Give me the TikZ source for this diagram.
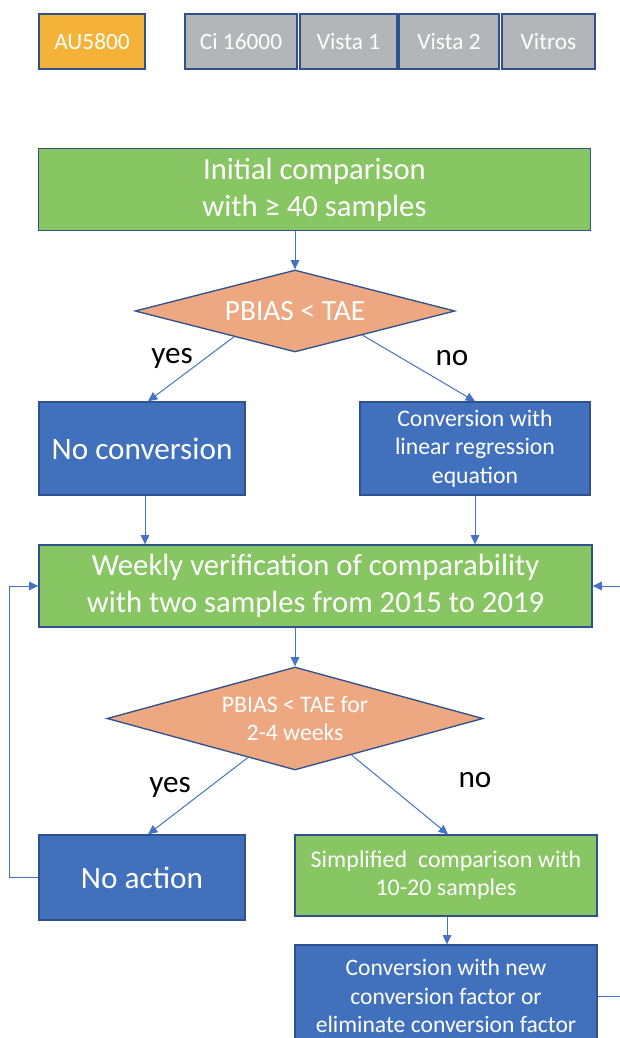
\documentclass[tikz,border=0pt]{standalone}
\usepackage{fontspec}
\setmainfont{Carlito}
\usetikzlibrary{shapes.geometric,arrows.meta,calc}
\definecolor{edgeblue}{HTML}{2F528F}
\definecolor{lineblue}{HTML}{4472C4}
\definecolor{boxblue}{HTML}{4170BD}
\definecolor{boxgreen}{HTML}{88C663}
\definecolor{boxgray}{HTML}{B4B5B8}
\definecolor{boxgold}{HTML}{F4B338}
\definecolor{boxsalmon}{HTML}{EDA781}
\begin{document}
\begin{tikzpicture}
        [x=0.75pt,y=-0.75pt,
        every node/.style={rectangle,draw=edgeblue,line width=1pt,inner sep=0pt,align=center,text=white},
        device/.style={minimum height=41.25pt,font=\fontsize{17.5}{20}\selectfont},
        bigbox/.style={minimum height=61pt,minimum width=414pt,fill=boxgreen,font=\fontsize{23}{28}\selectfont},
        decision/.style={diamond,fill=boxsalmon,aspect=3.9},
        action/.style={minimum width=154.5pt,fill=boxblue,font=\fontsize{23.4}{27}\selectfont},
        step box/.style={minimum width=226.5pt,font=\fontsize{18}{21}\selectfont},
        answer/.style={draw=none,text=black,font=\fontsize{23.4}{27}\selectfont},
        flow/.style={draw=lineblue,line width=0.75pt,-{Triangle[length=7pt,width=6.5pt]}},
        ]
        \useasboundingbox (0,0) rectangle (620,1038);
        \node[device,fill=boxgold,minimum width=79.5pt] (dev-1) at (92, 41.5) {AU5800};
        \node[device,fill=boxgray,minimum width=84pt] (dev-2) at (241, 41.5) {Ci 16000};
        \node[device,fill=boxgray,minimum width=72.75pt] (dev-3) at (348.5, 41.5) {Vista 1};
        \node[device,fill=boxgray,minimum width=75pt] (dev-4) at (449, 41.5) {Vista 2};
        \node[device,fill=boxgray,minimum width=69.75pt] (dev-5) at (548.5, 41.5) {Vitros};
        \node[bigbox] (initial) at (314.5, 189.5) {Initial comparison\\with \symbol{"2265} 40 samples};
        \node[decision,minimum width=240pt,minimum height=61.5pt,font=\fontsize{22}{26}\selectfont] (check-1) at (295, 311) {PBIAS < TAE};
        \node[action,minimum height=69.75pt] (no-conv) at (142, 448.5) {No conversion};
        \node[action,minimum width=172.5pt,minimum height=69.75pt,font=\fontsize{17.8}{21.4}\selectfont] (lin-conv) at (475, 448.5) {Conversion with\\linear regression\\equation};
        \node[bigbox,minimum width=414.75pt,minimum height=61.5pt] (weekly) at (315.5, 586) {Weekly verification of comparability\\with two samples from 2015 to 2019};
        \node[decision,minimum width=282pt,minimum height=77.25pt,font=\fontsize{17.8}{21}\selectfont] (check-2) at (295, 718.5) {PBIAS < TAE for\\2-4 weeks};
        \node[action,minimum height=63.75pt] (no-action) at (142, 877.5) {No action};
        \node[step box,fill=boxgreen,minimum height=60.75pt] (simple) at (446, 875.5) {Simplified~ comparison with\\10-20 samples};
        \node[step box,fill=boxblue,minimum height=76.5pt,font=\fontsize{17.7}{21.4}\selectfont] (new-conv) at (446, 996) {Conversion with new\\conversion factor or\\eliminate conversion factor};
        \node[answer] (yes-1) at (172, 358) {yes};
        \node[answer] (no-1) at (452, 358) {no};
        \node[answer] (yes-2) at (170, 787) {yes};
        \node[answer] (no-2) at (475, 780) {no};
        \draw[flow] (check-1.north |- initial.south) -- (check-1.north);
        \draw[flow] ($(check-1.west)!0.62!(check-1.south)$) -- ([xshift=4.5pt]no-conv.north);
        \draw[flow] ($(check-1.east)!0.58!(check-1.south)$) -- (lin-conv.north);
        \draw[flow] ([xshift=2.25pt]no-conv.south) -- ([xshift=2.25pt]no-conv.south |- weekly.north);
        \draw[flow] (lin-conv.south) -- (lin-conv.south |- weekly.north);
        \draw[flow] (check-2.north |- weekly.south) -- (check-2.north);
        \draw[flow] ($(check-2.west)!0.75!(check-2.south)$) -- ([xshift=4.5pt]no-action.north);
        \draw[flow] ($(check-2.east)!0.7!(check-2.south)$) -- ([xshift=1.5pt]simple.north);
        \draw[flow] ([xshift=0.75pt]simple.south) -- ([xshift=0.75pt]simple.south |- new-conv.north);
        \draw[flow] (no-action.west) -- ++(-29,0) |- (weekly.west);
        \draw[flow] (new-conv.east) -- ++(30,0) |- (weekly.east);
    \end{tikzpicture}
\end{document}
